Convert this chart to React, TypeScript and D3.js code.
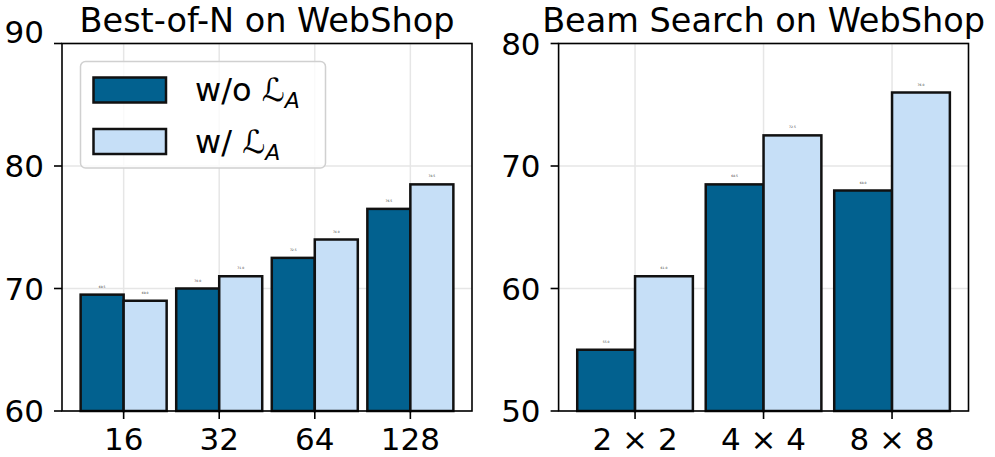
import React from "react";
import * as d3 from "d3";

const bonCategories = ["16", "32", "64", "128"];
const bonWithout = [69.5, 70.0, 72.5, 76.5];
const bonWith = [69.0, 71.0, 74.0, 78.5];
const bonYTicks = [60, 70, 80, 90];

const beamCategories = ["2 × 2", "4 × 4", "8 × 8"];
const beamWithout = [55.0, 68.5, 68.0];
const beamWith = [61.0, 72.5, 76.0];
const beamYTicks = [50, 60, 70, 80];

const DARK = "#02618f";
const LIGHT = "#c6dff7";
const FONT = "DejaVu Sans, sans-serif";

type PanelProps = {
  title: string;
  cats: string[];
  a: number[];
  b: number[];
  yDomain: [number, number];
  yTicks: number[];
  x0: number;
  x1: number;
  legend?: boolean;
  raiseTop?: boolean;
};

const TOP = 43.5;
const BOTTOM = 411;
const BW = 0.45;

function Panel({ title, cats, a, b, yDomain, yTicks, x0, x1, legend, raiseTop }: PanelProps) {
  const n = cats.length;
  const margin = (n - 1 + 2 * BW) * 0.05;
  const x = d3.scaleLinear().domain([-BW - margin, n - 1 + BW + margin]).range([x0, x1]);
  const y = d3.scaleLinear().domain(yDomain).range([BOTTOM, TOP]);
  const bw = x(BW) - x(0);
  const cx = (x0 + x1) / 2;
  const topTick = yTicks[yTicks.length - 1];
  return (
    <g>
      {yTicks.map((t) => (
        <line key={"gy" + t} x1={x0} x2={x1} y1={y(t)} y2={y(t)} stroke="#e6e6e6" strokeWidth={1.5} />
      ))}
      {cats.map((c, i) => (
        <line key={"gx" + c} x1={x(i)} x2={x(i)} y1={TOP} y2={BOTTOM} stroke="#e6e6e6" strokeWidth={1.5} />
      ))}
      {cats.map((c, i) => (
        <g key={"b" + c}>
          <rect x={x(i) - bw} y={y(a[i])} width={bw} height={BOTTOM - y(a[i])} fill={DARK} stroke="#111" strokeWidth={2.5} />
          <rect x={x(i)} y={y(b[i])} width={bw} height={BOTTOM - y(b[i])} fill={LIGHT} stroke="#111" strokeWidth={2.5} />
          <text x={x(i) - bw / 2} y={y(a[i]) - 7} fontSize={3} textAnchor="middle" fontFamily={FONT} fill="#333">{a[i].toFixed(1)}</text>
          <text x={x(i) + bw / 2} y={y(b[i]) - 7} fontSize={3} textAnchor="middle" fontFamily={FONT} fill="#333">{b[i].toFixed(1)}</text>
        </g>
      ))}
      <rect x={x0} y={TOP} width={x1 - x0} height={BOTTOM - TOP} fill="none" stroke="#000" strokeWidth={1.6} />
      {yTicks.map((t) => {
        const raised = raiseTop && t === topTick;
        return (
          <g key={"yt" + t}>
            <line x1={x0 - 8} x2={x0} y1={y(t)} y2={y(t)} stroke="#000" strokeWidth={1.6} />
            <text x={x0 - 18} y={raised ? y(t) - 1 : y(t)} dy={raised ? "0" : "0.36em"} textAnchor="end" fontSize={31} fontFamily={FONT}>{t}</text>
          </g>
        );
      })}
      {cats.map((c, i) => (
        <g key={"xt" + c}>
          <line x1={x(i)} x2={x(i)} y1={BOTTOM} y2={BOTTOM + 8} stroke="#000" strokeWidth={1.6} />
          <text x={x(i)} y={450} textAnchor="middle" fontSize={31} fontFamily={FONT}>{c}</text>
        </g>
      ))}
      <text x={cx} y={31.5} textAnchor="middle" fontSize={33.5} fontFamily={FONT}>{title}</text>
      {legend && (
        <g>
          <rect x={80.5} y={61.5} width={245} height={106.5} rx={5} fill="#fff" fillOpacity={0.8} stroke="#d0d0d0" strokeWidth={1.5} />
          <rect x={93.5} y={77.5} width={72.5} height={25} fill={DARK} stroke="#111" strokeWidth={2.5} />
          <rect x={93.5} y={129} width={72.5} height={25} fill={LIGHT} stroke="#111" strokeWidth={2.5} />
          <text x={195} y={101} fontSize={32} fontFamily={FONT}>
            w/o <tspan fontStyle="italic">ℒ</tspan><tspan fontSize={22} fontStyle="italic" dy={7}>A</tspan>
          </text>
          <text x={195} y={153} fontSize={32} fontFamily={FONT}>
            w/ <tspan fontStyle="italic">ℒ</tspan><tspan fontSize={22} fontStyle="italic" dy={7}>A</tspan>
          </text>
        </g>
      )}
    </g>
  );
}

export default function App() {
  return (
    <svg width={995} height={457} style={{ position: "absolute", left: 0, top: 0, background: "#fff" }}>
      <rect width={995} height={457} fill="#fff" />
      <Panel title="Best-of-N on WebShop" cats={bonCategories} a={bonWithout} b={bonWith} yDomain={[60, 90]} yTicks={bonYTicks} x0={62} x1={472} legend raiseTop />
      <Panel title="Beam Search on WebShop" cats={beamCategories} a={beamWithout} b={beamWith} yDomain={[50, 80]} yTicks={beamYTicks} x0={558.6} x1={968.5} />
    </svg>
  );
}
